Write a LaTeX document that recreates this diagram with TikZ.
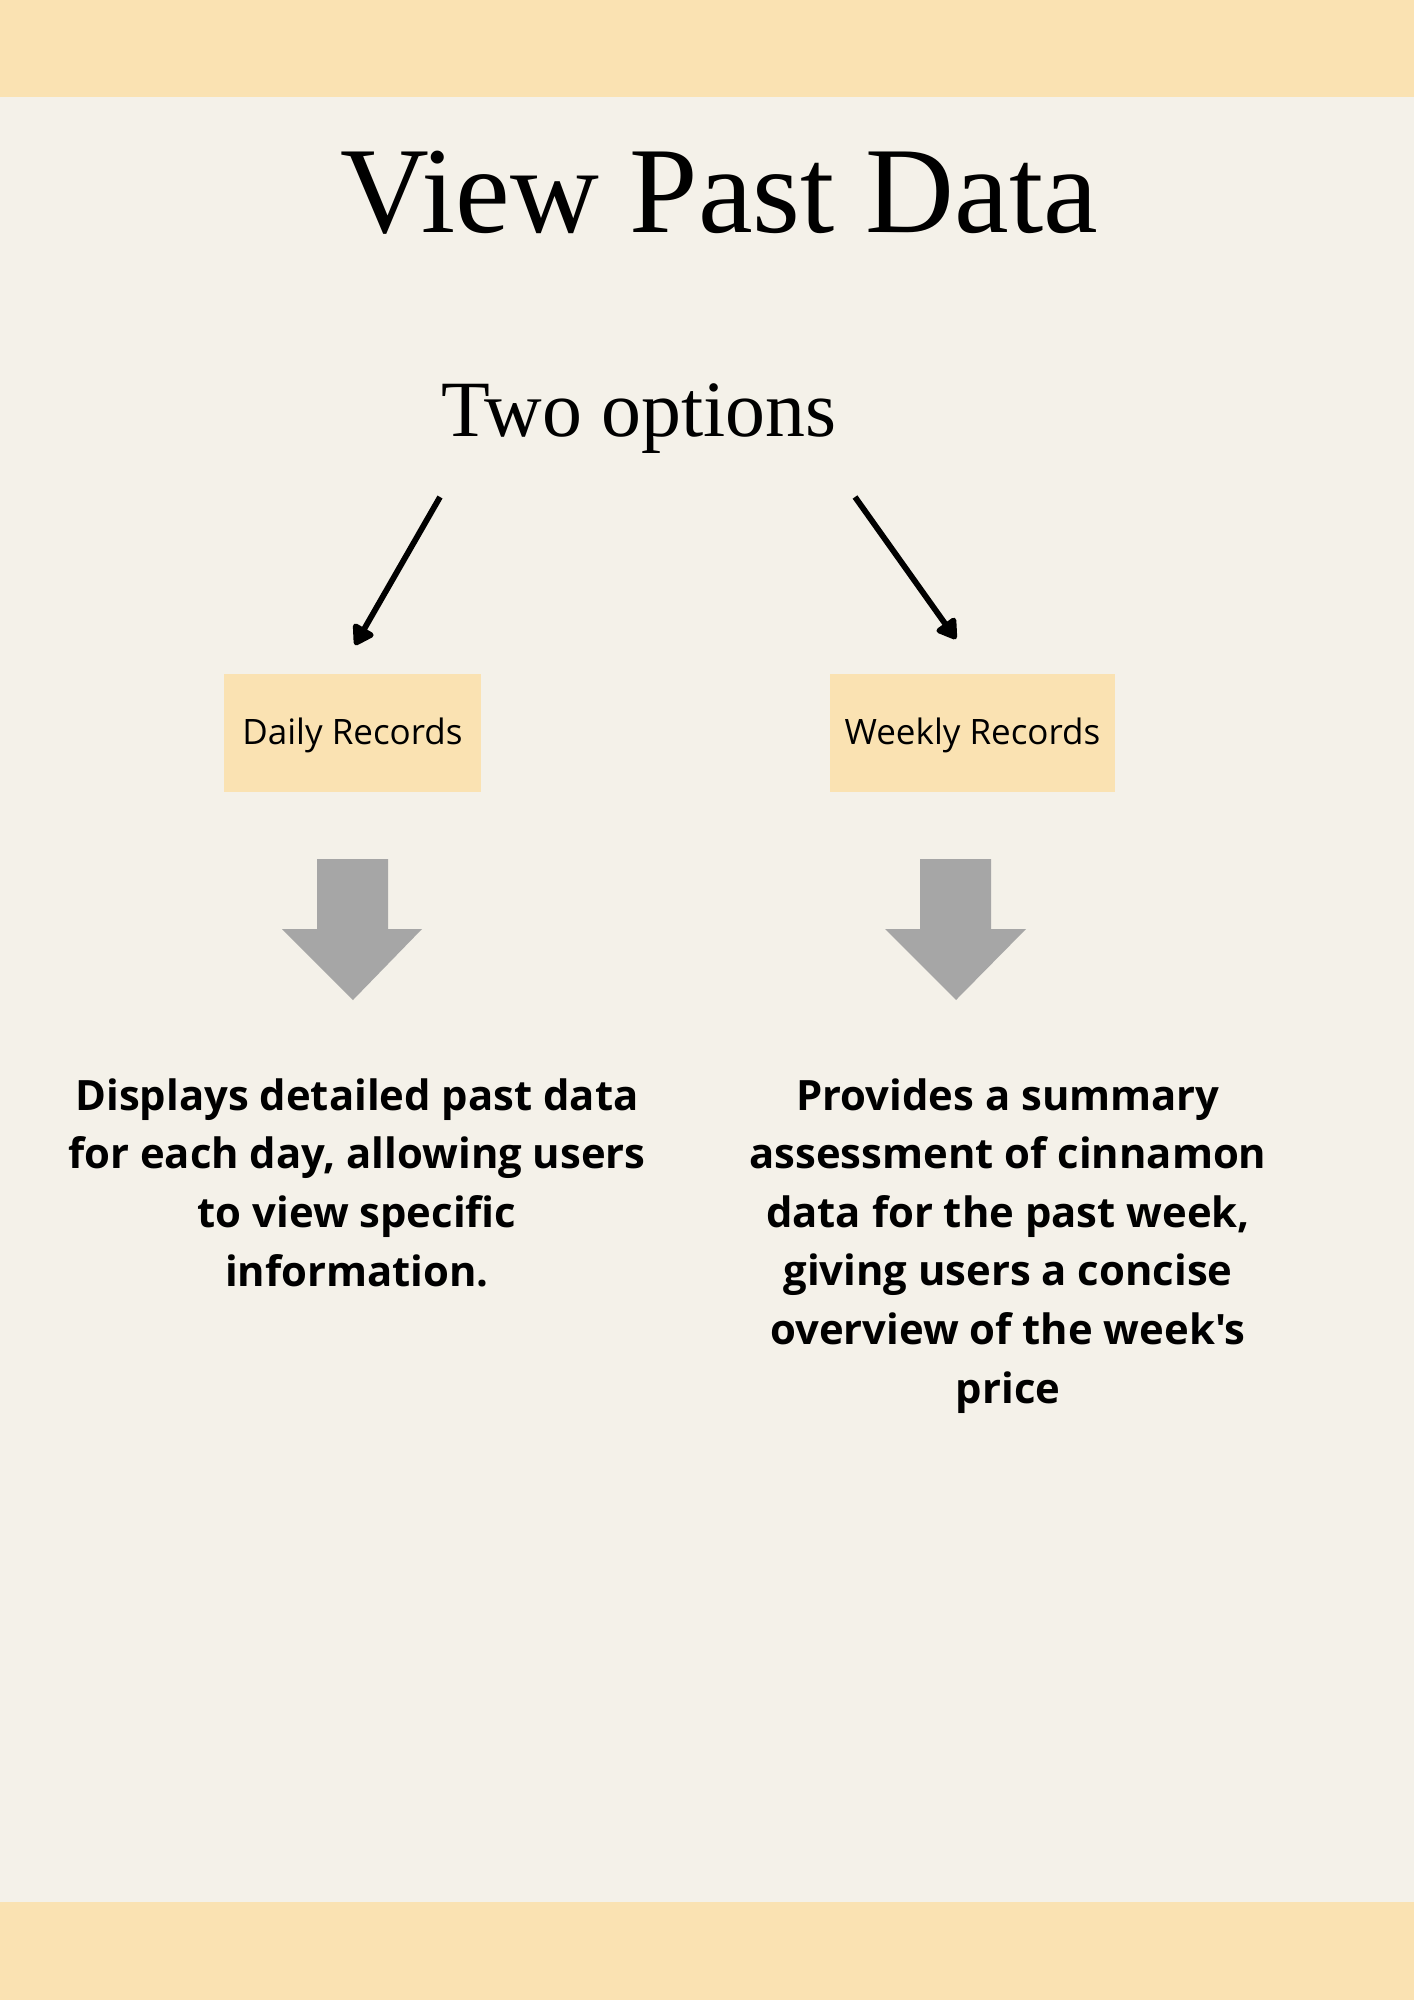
\documentclass[tikz,border=0pt]{standalone}
\usepackage{fontspec}
\setmainfont{Liberation Serif}
\newfontfamily\plainsans{Open Sans}
\usetikzlibrary{arrows.meta}
\definecolor{paper}{HTML}{F4F1E9}
\definecolor{band}{HTML}{FAE2B2}
\definecolor{blockgray}{HTML}{A6A6A6}
\tikzset{
  optionbox/.style={fill=band, minimum width=#1, minimum height=59pt, inner sep=0pt},
  boxlabel/.style={font=\plainsans\fontsize{17.5}{21}\selectfont, anchor=base, inner sep=0pt},
  pointer/.style={line width=2.9pt, -{Triangle[length=11pt,width=13pt,round]}},
  blurb/.style={font=\plainsans\bfseries\fontsize{20.9}{29.3}\selectfont, align=center, anchor=base, inner sep=0pt},
  blockarrow/.style={fill=blockgray, draw=none}
}
\begin{document}
\begin{tikzpicture}[x=0.5pt, y=-0.5pt]
  % page, header and footer bands
  \useasboundingbox (0,0) rectangle (1414,2000);
  \fill[paper] (0,0) rectangle (1414,2000);
  \fill[band] (0,0) rectangle (1414,97);
  \fill[band] (0,1902) rectangle (1414,2000);

  % headings
  \node[anchor=base, inner sep=0pt, font=\fontsize{61.5}{70}\selectfont] (title) at (719,233) {View Past Data};
  \node[anchor=base, inner sep=0pt, font=\fontsize{39.9}{46}\selectfont] (opts) at (639,437) {Two options};

  % the two option boxes
  \node[optionbox=128.5pt] (dailybox) at (352.5,733) {};
  \node[optionbox=142.5pt] (weeklybox) at (972.5,733) {};
  \node[boxlabel] (daily) at (352.5,744) {Daily Records};
  \node[boxlabel] (weekly) at (972.5,744) {Weekly Records};

  % pointers from the heading to the boxes
  \coordinate (lstart) at (440,497);
  \coordinate (lend) at (355,645);
  \coordinate (rstart) at (855,497);
  \coordinate (rend) at (956,639);
  \draw[pointer] (lstart) -- (lend);
  \draw[pointer] (rstart) -- (rend);

  % grey block arrows
  \fill[blockarrow] (317,859) -- (388,859) -- (388,929) -- (422,929) -- (353,1000)
    -- (282,929) -- (317,929) -- cycle;
  \fill[blockarrow] (920,859) -- (991,859) -- (991,929) -- (1026,929) -- (956,1000)
    -- (885,929) -- (920,929) -- cycle;

  % descriptions (anchored on the baseline of their last line)
  \node[blurb] (dailytext) at (357,1286) {Displays detailed past data\\for each day, allowing users\\to view specific\\information.};
  \node[blurb] (weeklytext) at (1008,1403) {Provides a summary\\assessment of cinnamon\\data for the past week,\\giving users a concise\\overview of the week's\\price};
\end{tikzpicture}
\end{document}
